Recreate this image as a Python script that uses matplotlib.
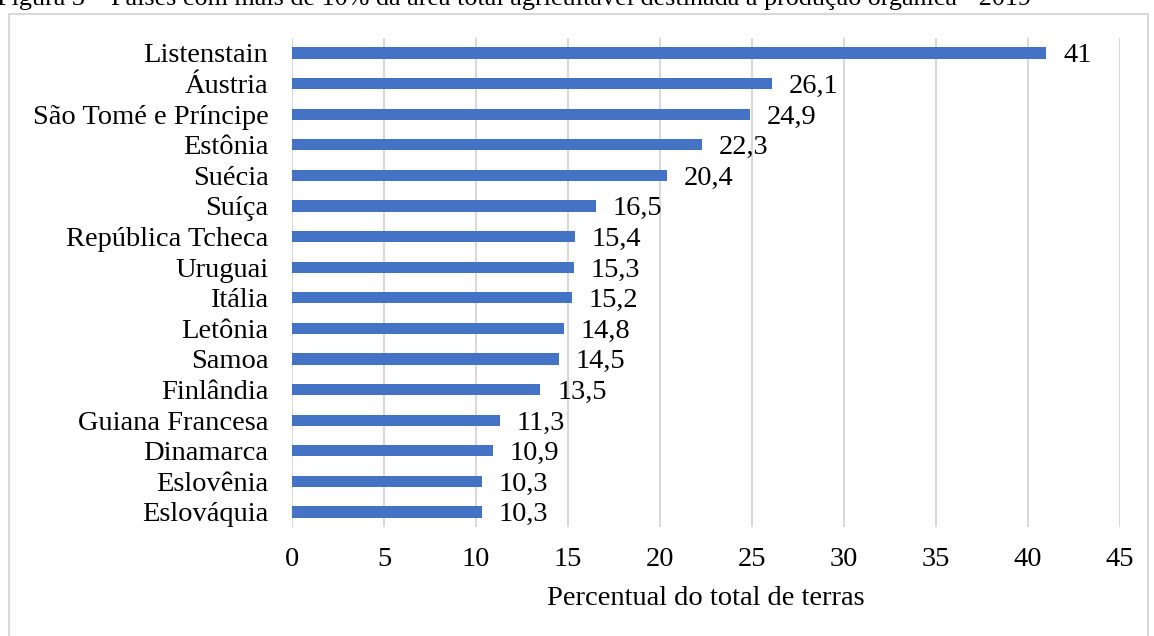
import matplotlib
matplotlib.use("Agg")
import matplotlib.pyplot as plt
from matplotlib.patches import Rectangle

countries = ["Listenstain", "Áustria", "São Tomé e Príncipe", "Estônia", "Suécia",
             "Suíça", "República Tcheca", "Uruguai", "Itália", "Letônia", "Samoa",
             "Finlândia", "Guiana Francesa", "Dinamarca", "Eslovênia", "Eslováquia"]
values = [41, 26.1, 24.9, 22.3, 20.4, 16.5, 15.4, 15.3, 15.2, 14.8, 14.5,
          13.5, 11.3, 10.9, 10.3, 10.3]
xticks = [0, 5, 10, 15, 20, 25, 30, 35, 40, 45]
title = "Figura 3 – Países com mais de 10% da área total agricultável destinada à produção orgânica - 2019"
xlabel = "Percentual do total de terras"

plt.rcParams['font.family'] = ['Liberation Serif', 'DejaVu Serif']

W, H = 1154, 636
fig = plt.figure(figsize=(W / 100, H / 100), dpi=100)

# chart border
fig.patches.append(Rectangle((9 / W, -0.1), (1148 - 9) / W, (H - 14) / H + 0.1,
                             transform=fig.transFigure, fill=False,
                             edgecolor='#d9d9d9', linewidth=1.5))

fig.text(-3 / W, 1 - 5 / H, title, fontsize=18.8, ha='left', va='baseline', color='#000000')

FS = 20.5
ax = fig.add_axes([292 / W, 1 - 527.3 / H, (1120 - 292) / W, (527.3 - 37.7) / H])
ypos = list(range(len(countries)))
ax.barh(ypos, values, height=0.36, color='#4472C4', zorder=3)
ax.set_ylim(len(countries) - 0.5, -0.5)
ax.set_xlim(0, 45)
ax.set_xticks(xticks)
ax.set_xticklabels([str(t) for t in xticks], fontsize=FS)
ax.set_yticks(ypos)
ax.set_yticklabels(countries, fontsize=FS)
ax.tick_params(axis='both', length=0)
ax.tick_params(axis='y', pad=17)
ax.tick_params(axis='x', pad=14)
ax.grid(axis='x', color='#d9d9d9', linewidth=1.5, zorder=0)
for s in ax.spines.values():
    s.set_visible(False)

for y, v in zip(ypos, values):
    lab = ("%g" % v).replace('.', ',')
    ax.annotate(lab, (v, y), xytext=(12, -2), textcoords='offset points',
                ha='left', va='center', fontsize=FS, color='#000000')

ax.set_xlabel(xlabel, fontsize=FS, labelpad=10)

fig.savefig("out.png", dpi=100)
